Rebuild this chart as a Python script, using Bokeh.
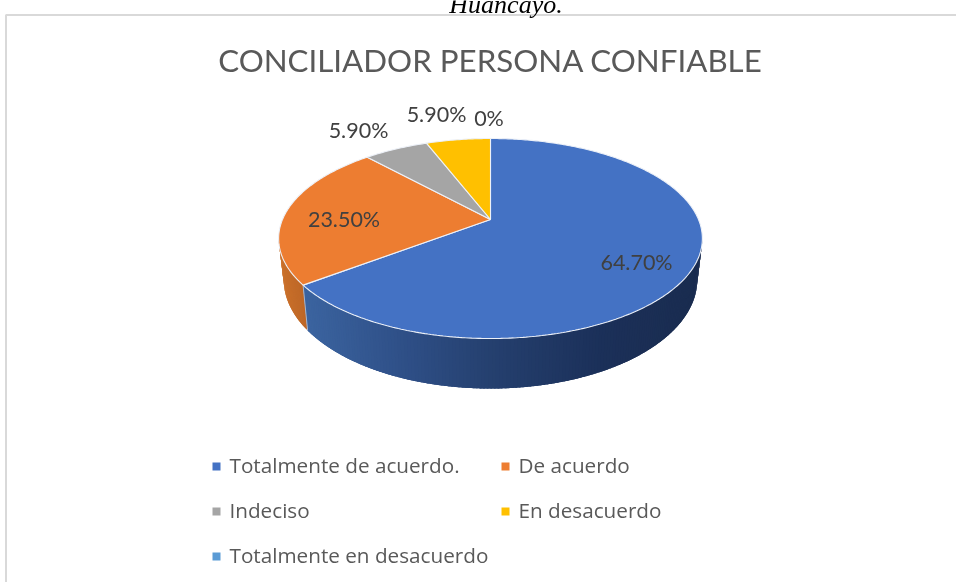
import math
from bokeh.plotting import figure
from bokeh.core.properties import value
from bokeh.embed import file_html
from bokeh.resources import INLINE

TITLE = "CONCILIADOR PERSONA CONFIABLE"
CAPTION = "Huancayo."
categories = ["Totalmente de acuerdo.", "De acuerdo", "Indeciso", "En desacuerdo", "Totalmente en desacuerdo"]
shares = [64.7, 23.5, 5.9, 5.9, 0.0]
share_labels = ["64.70%", "23.50%", "5.90%", "5.90%", "0%"]
colors = ["#4472c4", "#ed7d31", "#a5a5a5", "#ffc000", "#5b9bd5"]

W, H = 956, 582
K = 0.19
CX = 490


def top(theta):
    u, v = math.sin(theta), math.cos(theta)
    s = 1 / (1 + K * v)
    return CX + 208 * u * s, 219 - 96.4 * v * s


def bottom(theta):
    u, v = math.sin(theta), math.cos(theta)
    s = 1 / (1 + K * v)
    return CX + 203 * u * s, 258.4 - 105 * v * s


def mix(stops, x):
    x = max(stops[0][0], min(stops[-1][0], x))
    for (x0, c0), (x1, c1) in zip(stops, stops[1:]):
        if x <= x1:
            t = (x - x0) / (x1 - x0)
            rgb = [round(c0[i] + (c1[i] - c0[i]) * t) for i in range(3)]
            return "#%02x%02x%02x" % tuple(rgb)
    return "#000000"


blue_stops = [(300, (60, 101, 161)), (400, (47, 80, 136)), (490, (37, 64, 111)), (600, (27, 48, 89)), (705, (26, 44, 79))]
orange_stops = [(280, (203, 113, 43)), (310, (186, 100, 38))]

p = figure(width=W, height=H, x_range=(0, W), y_range=(H, 0), toolbar_location=None,
           output_backend="svg", min_border=0, outline_line_color=None, background_fill_color="white",
           border_fill_color="white", x_axis_type=None, y_axis_type=None)
p.grid.visible = False
p.styles = {"position": "fixed", "left": "0px", "top": "0px"}

# chart frame
p.line([5.5, 5.5, W], [H, 14.5, 14.5], line_color="#d9d9d9", line_width=2)

# slice boundaries from the shares
total = sum(shares)
edges = [0.0]
for v in shares:
    edges.append(edges[-1] + v / total * 2 * math.pi)

right_ext = math.pi - math.acos(K)
left_ext = math.pi + math.acos(K)


def strips(a, b, stops):
    """Side wall as overlapping strips, painted in order, so no seams show."""
    n = max(2, int((b - a) * 70))
    xs, ys, cs = [], [], []
    for i in range(n):
        t0 = a + (b - a) * i / n
        t1 = min(b, a + (b - a) * (i + 2.5) / n)
        tm = a + (b - a) * (i + 0.5) / n
        ts = [t0 + (t1 - t0) * j / 4 for j in range(5)]
        ups = [top(t) for t in ts]
        downs = [bottom(t) for t in reversed(ts)]
        xs.append([q[0] for q in ups + downs])
        ys.append([q[1] for q in ups + downs])
        q0, q1 = top(tm), bottom(tm)
        cs.append(mix(stops, (q0[0] + q1[0]) / 2))
    return xs, ys, cs


for a, b, stops in [(edges[1], left_ext, orange_stops), (right_ext, edges[1], blue_stops)]:
    xs, ys, cs = strips(a, b, stops)
    p.patches(xs, ys, fill_color=cs, line_color=None)

t0, b0 = top(edges[1]), bottom(edges[1])
p.line([t0[0], b0[0]], [t0[1], b0[1]], line_color="#a9b4c8", line_width=1)

# top surface
for i, c in enumerate(colors):
    a, b = edges[i], edges[i + 1]
    if b - a <= 0:
        continue
    n = max(3, int((b - a) * 80))
    pts = [top(a + (b - a) * j / n) for j in range(n + 1)]
    xs = [CX] + [q[0] for q in pts]
    ys = [219] + [q[1] for q in pts]
    p.patch(xs, ys, fill_color=c, line_color="#edf1f8", line_width=1.1)

# data labels
label_x = [636, 343.5, 358, 436, 488.5]
label_y = [261, 218, 129, 113, 117]
p.text(label_x, label_y, text=share_labels, text_font=value("Lato"), text_font_size="21.5px",
       text_color="#404040", text_align="center", text_baseline="middle")

# title and caption
p.text([490], [59], text=[TITLE], text_font=value("Lato"), text_font_size="31.3px", text_color="#595959",
       text_align="center", text_baseline="middle")
p.text([505.5], [3.5], text=[CAPTION], text_font=value("Liberation Serif"), text_font_style="italic",
       text_font_size="26px", text_color="#000000", text_align="center", text_baseline="alphabetic")

# legend
leg_x = [216, 505, 216, 505, 216]
leg_y = [466, 466, 511, 511, 556]
p.rect(leg_x, leg_y, width=8, height=8, fill_color=colors, line_color=None)
p.text([x + 13 for x in leg_x], [y - 1.5 for y in leg_y], text=categories, text_font=value("Open Sans"),
       text_font_size="20.7px", text_color="#595959", text_align="left", text_baseline="middle")

open("out.html", "w").write(file_html(p, INLINE))
